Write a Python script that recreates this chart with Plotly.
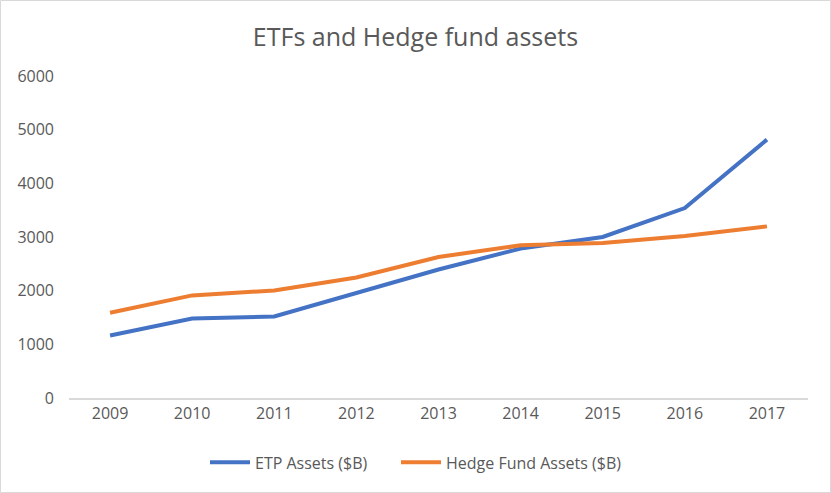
import plotly.graph_objects as go

years = ["2009", "2010", "2011", "2012", "2013", "2014", "2015", "2016", "2017"]
etp_assets = [1165, 1480, 1520, 1960, 2395, 2785, 3000, 3540, 4815]
hedge_assets = [1590, 1912, 2005, 2245, 2628, 2845, 2888, 3019, 3198]
y_ticks = [0, 1000, 2000, 3000, 4000, 5000, 6000]

L, R, T, B = 69, 23, 76, 95
PW = 831 - L - R

def px_x(p):
    return (p - L) / PW

fig = go.Figure()
fig.add_trace(go.Scatter(x=years, y=etp_assets, mode="lines", name="ETP Assets ($B)",
                         line=dict(color="#4472C4", width=4), legend="legend"))
fig.add_trace(go.Scatter(x=years, y=hedge_assets, mode="lines", name="Hedge Fund Assets ($B)",
                         line=dict(color="#ED7D31", width=4), legend="legend2"))

leg_common = dict(orientation="h", xanchor="left", y=-0.2, yanchor="middle",
                  font=dict(size=16), itemwidth=40, bgcolor="rgba(0,0,0,0)")

fig.update_layout(
    width=831, height=493,
    margin=dict(l=L, r=R, t=T, b=B),
    paper_bgcolor="white", plot_bgcolor="white",
    font=dict(family="Open Sans, Liberation Sans, sans-serif", color="#595959", size=16),
    title=dict(text="ETFs and Hedge fund assets", x=0.5, xanchor="center", y=0.925, yanchor="middle",
               font=dict(size=25, color="#595959")),
    xaxis=dict(type="category", range=[-0.5, 8.5], showgrid=False, showline=True,
               linecolor="#d9d9d9", linewidth=1.5, ticks="", tickfont=dict(size=16)),
    yaxis=dict(range=[0, 6000], tickvals=y_ticks, showgrid=False, zeroline=False,
               showline=False, ticks="", tickfont=dict(size=16), ticklabelstandoff=14),
    legend=dict(x=px_x(205), **leg_common),
    legend2=dict(x=px_x(396), **leg_common),
    shapes=[dict(type="rect", xref="paper", yref="paper", x0=-(L - 0.5) / PW, x1=(831 - L - 0.5) / PW,
                 y0=-(B - 0.5) / 322, y1=(322 + T - 0.5) / 322, line=dict(color="#d9d9d9", width=1))],
    showlegend=True,
)

fig.write_html("out.html", post_script="document.body.style.margin='0';",
               config={"displayModeBar": False})
